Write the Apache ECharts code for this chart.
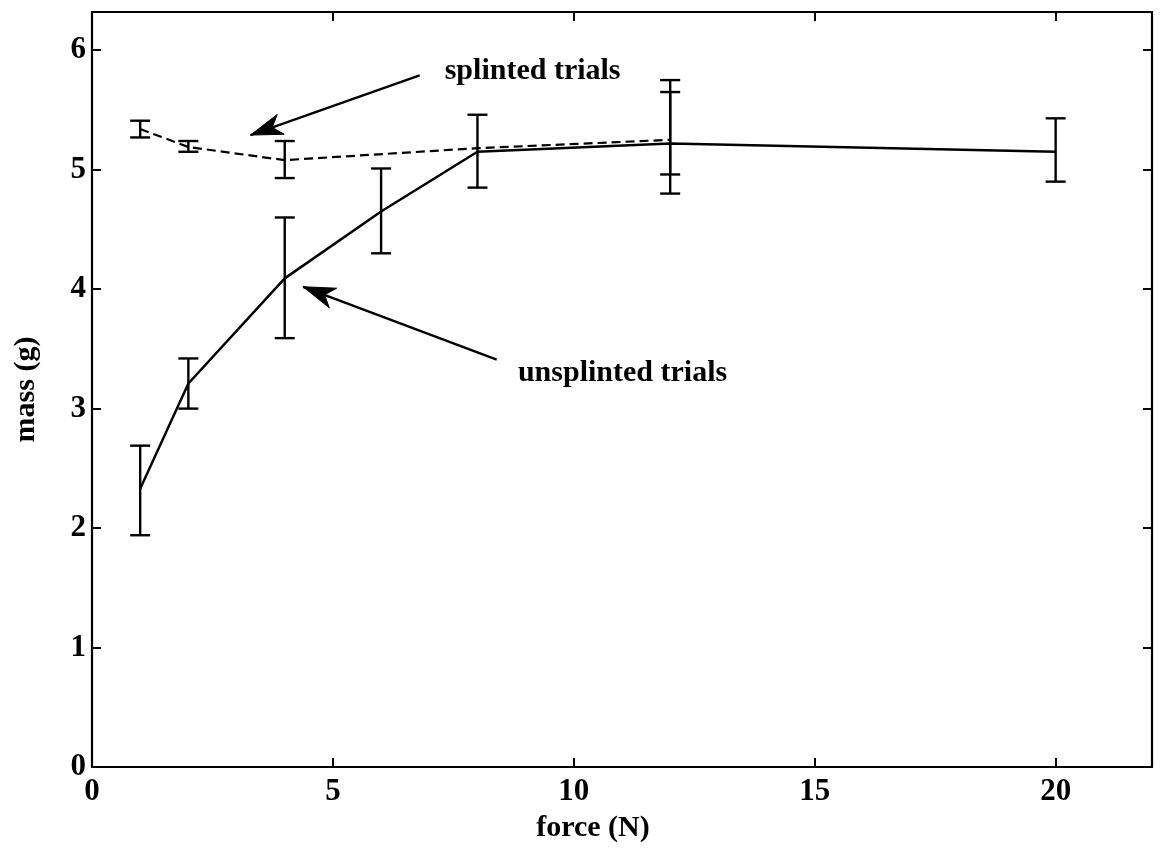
<!DOCTYPE html>
<html>
<head>
<meta charset="utf-8">
<script src="https://cdn.jsdelivr.net/npm/echarts@6/dist/echarts.min.js"></script>
<style>
  html, body { margin: 0; padding: 0; background: #ffffff; }
  #chart { width: 1160px; height: 854px; }
</style>
</head>
<body>
<div id="chart"></div>
<script>
// Applied force (N) for each group of trials
const force = [1, 2, 4, 6, 8, 12, 20];
// Unsplinted trials: mean mass (g) and error-bar limits
const unsplintedMean = [2.33, 3.21, 4.09, 4.65, 5.15, 5.22, 5.15];
const unsplintedLow  = [1.94, 3.00, 3.59, 4.30, 4.85, 4.80, 4.90];
const unsplintedHigh = [2.69, 3.42, 4.60, 5.01, 5.46, 5.75, 5.43];

// Splinted trials
const splintedForce = [1, 2, 4, 8, 12];
const splintedMean = [5.34, 5.19, 5.08, 5.18, 5.25];
const splintedLow  = [5.27, 5.15, 4.93, null, 4.96];
const splintedHigh = [5.41, 5.24, 5.24, null, 5.65];

// Axis ranges and ticks
const xRange = [0, 22];
const xStep = 5;
const yRange = [0, 6.32];
const yStep = 1;

// Annotation texts with arrow tail/tip positions in data units
const annotations = [
  { text: 'splinted trials',   textAt: [7.32, 5.82], tail: [6.80, 5.79], tip: [3.29, 5.29] },
  { text: 'unsplinted trials', textAt: [8.84, 3.30], tail: [8.40, 3.41], tip: [4.38, 4.02] }
];

const FONT = '"Liberation Serif", "Times New Roman", serif';
const INK = '#000000';

const chart = echarts.init(document.getElementById('chart'), null, { renderer: 'canvas' });

function pairs(xs, ys) {
  return xs.map((x, i) => [x, ys[i]]);
}
function bars(xs, lows, highs) {
  return xs.map((x, i) => (lows[i] == null ? null : [x, lows[i], highs[i]])).filter(Boolean);
}

function renderErrorBar(params, api) {
  const x = api.value(0);
  const lo = api.coord([x, api.value(1)]);
  const hi = api.coord([x, api.value(2)]);
  const w = 10;
  const st = { stroke: INK, lineWidth: 2.4 };
  return {
    type: 'group',
    children: [
      { type: 'line', shape: { x1: lo[0], y1: lo[1], x2: hi[0], y2: hi[1] }, style: st },
      { type: 'line', shape: { x1: lo[0] - w, y1: lo[1], x2: lo[0] + w, y2: lo[1] }, style: st },
      { type: 'line', shape: { x1: hi[0] - w, y1: hi[1], x2: hi[0] + w, y2: hi[1] }, style: st }
    ]
  };
}

const tickLabel = { color: INK, fontFamily: FONT, fontSize: 31, fontWeight: 'bold' };
const nameStyle = { color: INK, fontFamily: FONT, fontSize: 30, fontWeight: 'bold' };
const frameLine = { show: true, onZero: false, lineStyle: { color: INK, width: 2.2 } };
const innerTick = { show: true, inside: true, length: 9, lineStyle: { color: INK, width: 2 } };

const option = {
  backgroundColor: '#ffffff',
  animation: false,
  grid: { left: 92, right: 8, top: 12, bottom: 87, containLabel: false },
  xAxis: [
    {
      type: 'value', position: 'bottom',
      min: xRange[0], max: xRange[1], interval: xStep,
      axisLine: frameLine, axisTick: innerTick, splitLine: { show: false },
      axisLabel: Object.assign({ margin: 9, showMaxLabel: false }, tickLabel),
      name: 'force (N)', nameLocation: 'middle', nameGap: 46,
      nameTextStyle: Object.assign({ padding: [0, 58, 0, 0] }, nameStyle)
    },
    {
      type: 'value', position: 'top',
      min: xRange[0], max: xRange[1], interval: xStep,
      axisLine: frameLine, axisTick: innerTick, splitLine: { show: false },
      axisLabel: { show: false }
    }
  ],
  yAxis: [
    {
      type: 'value', position: 'left',
      min: yRange[0], max: yRange[1], interval: yStep,
      axisLine: frameLine, axisTick: innerTick, splitLine: { show: false },
      axisLabel: Object.assign({ margin: 6, showMaxLabel: false }, tickLabel),
      name: 'mass (g)', nameLocation: 'middle', nameGap: 51,
      nameTextStyle: nameStyle
    },
    {
      type: 'value', position: 'right',
      min: yRange[0], max: yRange[1], interval: yStep,
      axisLine: frameLine, axisTick: innerTick, splitLine: { show: false },
      axisLabel: { show: false }
    }
  ],
  series: [
    {
      name: 'unsplinted trials', type: 'line',
      xAxisIndex: 0, yAxisIndex: 0,
      data: pairs(force, unsplintedMean),
      symbol: 'none', smooth: false,
      lineStyle: { color: INK, width: 2.5, type: 'solid' }, z: 3
    },
    {
      name: 'splinted trials', type: 'line',
      xAxisIndex: 0, yAxisIndex: 0,
      data: pairs(splintedForce, splintedMean),
      symbol: 'none', smooth: false,
      lineStyle: { color: INK, width: 2.2, type: [9, 5] }, z: 3
    },
    {
      name: 'unsplinted error', type: 'custom',
      xAxisIndex: 0, yAxisIndex: 0,
      data: bars(force, unsplintedLow, unsplintedHigh),
      encode: { x: 0, y: [1, 2] },
      renderItem: renderErrorBar, z: 4
    },
    {
      name: 'splinted error', type: 'custom',
      xAxisIndex: 0, yAxisIndex: 0,
      data: bars(splintedForce, splintedLow, splintedHigh),
      encode: { x: 0, y: [1, 2] },
      renderItem: renderErrorBar, z: 4
    }
  ]
};

chart.setOption(option);

// Arrows and their captions, placed from data coordinates
function toPx(p) {
  return chart.convertToPixel({ xAxisIndex: 0, yAxisIndex: 0 }, p);
}
function arrowHead(tip, tail) {
  const dx = tail[0] - tip[0], dy = tail[1] - tip[1];
  const len = Math.sqrt(dx * dx + dy * dy);
  const ux = dx / len, uy = dy / len;
  const nx = -uy, ny = ux;
  const L = 32, W = 10.5, N = 23;
  return [
    tip,
    [tip[0] + ux * L + nx * W, tip[1] + uy * L + ny * W],
    [tip[0] + ux * N, tip[1] + uy * N],
    [tip[0] + ux * L - nx * W, tip[1] + uy * L - ny * W]
  ];
}

const graphics = [];
annotations.forEach((a) => {
  const tip = toPx(a.tip);
  const tail = toPx(a.tail);
  const at = toPx(a.textAt);
  graphics.push({
    type: 'polyline', z: 10,
    shape: { points: [tail, tip] },
    style: { stroke: INK, lineWidth: 2.4, fill: null }
  });
  graphics.push({
    type: 'polygon', z: 10,
    shape: { points: arrowHead(tip, tail) },
    style: { fill: INK, stroke: INK, lineWidth: 1 }
  });
  graphics.push({
    type: 'text', z: 10, x: at[0], y: at[1],
    style: {
      text: a.text, fill: INK, font: 'bold 30px ' + FONT,
      textAlign: 'left', textVerticalAlign: 'middle'
    }
  });
});
chart.setOption({ graphic: graphics });
</script>
</body>
</html>
